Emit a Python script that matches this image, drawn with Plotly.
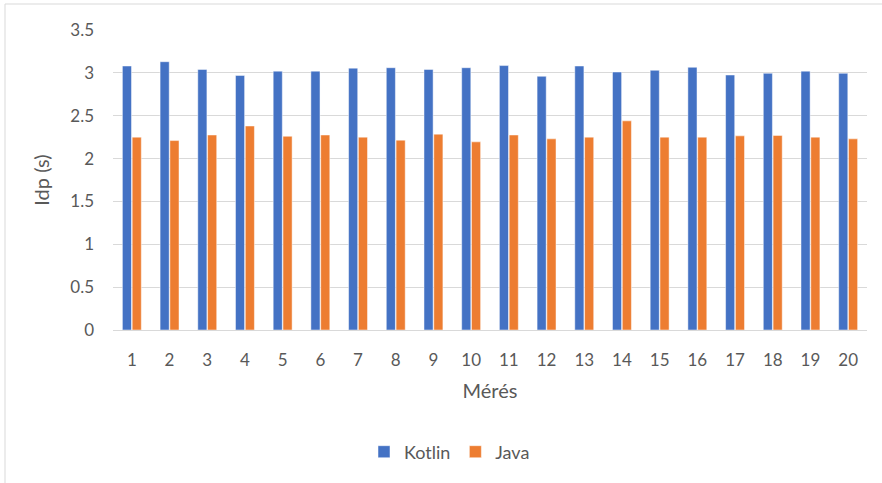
import plotly.graph_objects as go

# Measurement indices and run times (seconds)
meresek = [str(i) for i in range(1, 21)]
kotlin = [3.08, 3.13, 3.04, 2.97, 3.02, 3.02, 3.055, 3.06, 3.04, 3.06,
          3.085, 2.96, 3.08, 3.01, 3.03, 3.065, 2.975, 2.995, 3.02, 2.995]
java = [2.25, 2.21, 2.275, 2.38, 2.26, 2.275, 2.25, 2.215, 2.285, 2.195,
        2.275, 2.23, 2.25, 2.44, 2.25, 2.25, 2.265, 2.27, 2.25, 2.23]
y_ticks = [0, 0.5, 1, 1.5, 2, 2.5, 3, 3.5]
y_tick_text = ["0", "0.5", "1", "1.5", "2", "2.5", "3", "3.5"]

W, H = 882, 483
L, R, T, B = 113, 15, 30, 153
pw, ph = W - L - R, H - T - B

def px_x(p):
    return (p - L) / pw

def px_y(p):
    return (H - B - p) / ph

font_color = "#595959"
grid_color = "#d9d9d9"

fig = go.Figure()
fig.add_trace(go.Bar(x=meresek, y=kotlin, name="Kotlin",
                     marker=dict(color="#4472C4", line=dict(color="rgba(255,255,255,0.6)", width=0.8))))
fig.add_trace(go.Bar(x=meresek, y=java, name="Java",
                     marker=dict(color="#ED7D31", line=dict(color="rgba(255,255,255,0.6)", width=0.8))))

fig.update_layout(
    width=W, height=H,
    margin=dict(l=L, r=R, t=T, b=B),
    paper_bgcolor="white", plot_bgcolor="white",
    font=dict(family="Lato", color=font_color, size=17),
    barmode="group", bargap=0.48, bargroupgap=0.07,
    showlegend=True,
    legend=dict(orientation="h", x=px_x(364), xanchor="left",
                y=px_y(452), yanchor="middle", font=dict(size=18),
                itemwidth=30, traceorder="normal"),
    xaxis=dict(showgrid=False, showline=True, linecolor=grid_color, linewidth=1,
               ticks="", tickfont=dict(size=17), ticklabelstandoff=15,
               title=dict(text="Mérés", font=dict(size=20), standoff=14)),
    yaxis=dict(range=[0, 3.5], tickvals=y_ticks, ticktext=y_tick_text,
               showgrid=True, gridcolor=grid_color, gridwidth=1,
               zeroline=False, showline=False, ticks="",
               tickfont=dict(size=17), ticklabelstandoff=18,
               title=dict(text="Idp (s)", font=dict(size=20), standoff=15)),
    shapes=[dict(type="rect", xref="paper", yref="paper",
                 x0=px_x(5), x1=px_x(W + 10), y0=px_y(H + 10), y1=px_y(4),
                 line=dict(color=grid_color, width=1), fillcolor="rgba(0,0,0,0)",
                 layer="below")],
)

fig.write_html("out.html")
